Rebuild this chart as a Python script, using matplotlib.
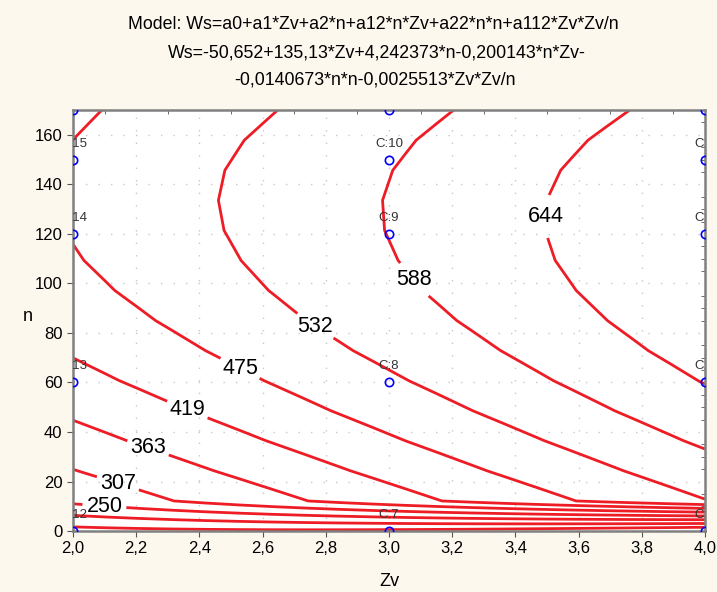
import numpy as np
import matplotlib
matplotlib.use("Agg")
import matplotlib.pyplot as plt
from matplotlib.ticker import MultipleLocator, FuncFormatter

plt.rcParams['font.family'] = ['Liberation Sans', 'DejaVu Sans']

# model coefficients (from the title)
a0 = -50.652
a1 = 135.13
a2 = 4.242373
a12 = -0.200143
a22 = -0.0140673
a112 = -0.0025513

# contour levels
levels = [25.2, 81.5, 137.7, 194.0, 250.3, 306.6, 362.9, 419.1, 475.4, 531.7, 588.0, 644.3]
# where the labels sit (250 ... 644)
label_pos = [(2.10, 11.0), (2.145, 20.5), (2.24, 34.5), (2.36, 48.5),
             (2.53, 66.0), (2.76, 81.5), (3.08, 101.5), (3.505, 127.0)]

# design points
pt_zv = [4, 4, 4, 4, 4, 3, 3, 3, 3, 3, 2, 2, 2, 2, 2]
pt_n = [0, 60, 120, 150, 170, 0, 60, 120, 150, 170, 0, 60, 120, 150, 170]
pt_lab = ["C:2", "C:3", "C:4", "C:5", "C:6", "C:7", "C:8", "C:9", "C:10", "C:11",
          "C:12", "C:13", "C:14", "C:15", "C:16"]


def ws(zv, n):
    return a0 + a1*zv + a2*n + a12*n*zv + a22*n*n + a112*zv*zv/n


# evaluation grid (n=0 row taken just above zero)
zv_g = np.linspace(2, 4, 20)
n_g = np.linspace(0, 170, 15)
ZV, N_plot = np.meshgrid(zv_g, n_g)
N_eval = N_plot.copy()
N_eval[0, :] = 1e-4
W = ws(ZV, N_eval)

fig = plt.figure(figsize=(7.17, 5.92), dpi=100, facecolor='#fdf8ee')
ax = fig.add_axes([0.1018, 0.103, 0.8815, 0.711])
ax.set_facecolor('white')

cs = ax.contour(ZV, N_plot, W, levels=levels, colors='#ee1c25', linewidths=2.0)
lbls = ax.clabel(cs, manual=label_pos, inline=True, inline_spacing=4,
                 fontsize=15.5, colors='black', fmt=lambda v: f"{v:.0f}")
for t in lbls:
    t.set_rotation(0)

ax.plot(pt_zv, pt_n, 'o', mfc='none', mec='blue', ms=6, mew=1.2, clip_on=True, zorder=5)
for x, y, t in zip(pt_zv, pt_n, pt_lab):
    ax.text(x, y + 6.5, t, ha='center', va='center', fontsize=9.5, color='#333333', clip_on=True)

ax.set_xlim(2, 4)
ax.set_ylim(0, 170)
ax.xaxis.set_major_locator(MultipleLocator(0.2))
ax.yaxis.set_major_locator(MultipleLocator(20))
ax.xaxis.set_minor_locator(MultipleLocator(0.1))
ax.yaxis.set_minor_locator(MultipleLocator(5))
ax.xaxis.set_major_formatter(FuncFormatter(lambda v, p: f"{v:.1f}".replace('.', ',')))
ax.yaxis.set_major_formatter(FuncFormatter(lambda v, p: f"{v:.0f}"))
ax.tick_params(axis='both', which='major', direction='out', length=4, labelsize=12,
               color='#555555', top=False, right=False)
ax.tick_params(axis='both', which='minor', direction='in', length=3, color='#555555',
               top=True, right=True, bottom=False, left=False)
ax.grid(True, which='major', color='#c8c8c8', linestyle=(0, (1, 8)), linewidth=1)

for s in ax.spines.values():
    s.set_color('#808080')
    s.set_linewidth(1.8)

ax.set_xlabel('Zv', fontsize=13, labelpad=12)
ax.set_ylabel('n', fontsize=13, rotation=0, ha='center', va='center')
ax.yaxis.set_label_coords(-0.071, 0.51)

fig.text(0.52, 0.958, "Model: Ws=a0+a1*Zv+a2*n+a12*n*Zv+a22*n*n+a112*Zv*Zv/n",
         ha='center', va='center', fontsize=12.8)
fig.text(0.526, 0.911, "Ws=-50,652+135,13*Zv+4,242373*n-0,200143*n*Zv-",
         ha='center', va='center', fontsize=12.8)
fig.text(0.523, 0.865, "-0,0140673*n*n-0,0025513*Zv*Zv/n",
         ha='center', va='center', fontsize=12.8)

fig.savefig('out.png', dpi=100, facecolor=fig.get_facecolor())
